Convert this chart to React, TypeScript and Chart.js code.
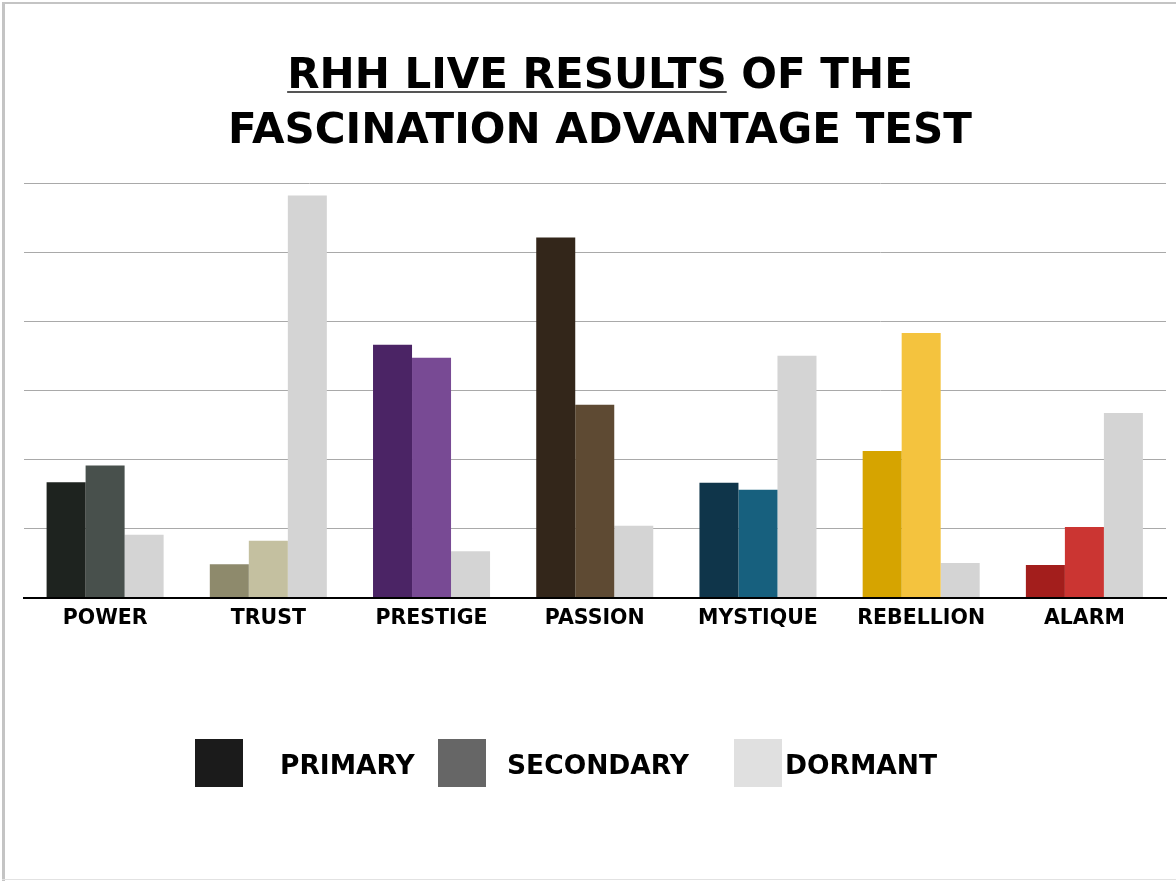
import React, { useEffect, useRef } from "react";
import { Chart, registerables } from "chart.js";

Chart.register(...registerables);

const categories = ["POWER", "TRUST", "PRESTIGE", "PASSION", "MYSTIQUE", "REBELLION", "ALARM"];
const primaryValues = [1.67, 0.48, 3.66, 5.21, 1.66, 2.12, 0.47];
const secondaryValues = [1.91, 0.82, 3.47, 2.79, 1.56, 3.83, 1.02];
const dormantValues = [0.91, 5.82, 0.67, 1.04, 3.5, 0.5, 2.67];

const primaryColors = ["#1e231f", "#8e8a6c", "#4b2465", "#33261a", "#0f354a", "#d6a400", "#a31e1c"];
const secondaryColors = ["#48504c", "#c4c0a0", "#784a94", "#5e4a33", "#17607e", "#f4c33e", "#cb3532"];
const dormantColors = ["#d4d4d4", "#d4d4d4", "#d4d4d4", "#d4d4d4", "#d4d4d4", "#d4d4d4", "#d4d4d4"];

const legendLabels = ["PRIMARY", "SECONDARY", "DORMANT"];
const legendColors = ["#1b1b1b", "#666666", "#e0e0e0"];

const FONT = "'DejaVu Sans', sans-serif";

// legend layout (pixel positions of boxes and text starts)
const legendBoxX = [195, 438, 734];
const legendTextX = [280, 507, 785];
const LEGEND_BOX_Y = 739;
const LEGEND_BOX_SIZE = 48;
const LEGEND_BASELINE = 774;

const legendPlugin = {
  id: "customLegend",
  afterDraw(chart: any) {
    const ctx = chart.ctx;
    ctx.save();
    ctx.font = `bold 26.5px ${FONT}`;
    ctx.textBaseline = "alphabetic";
    ctx.textAlign = "left";
    legendLabels.forEach((label, i) => {
      ctx.fillStyle = legendColors[i];
      ctx.fillRect(legendBoxX[i], LEGEND_BOX_Y, LEGEND_BOX_SIZE, LEGEND_BOX_SIZE);
      ctx.fillStyle = "#000000";
      ctx.fillText(label, legendTextX[i], LEGEND_BASELINE);
    });
    ctx.restore();
  },
};

export default function App() {
  const ref = useRef<HTMLCanvasElement>(null);

  useEffect(() => {
    if (!ref.current) return;
    const chart = new Chart(ref.current, {
      type: "bar",
      data: {
        labels: categories,
        datasets: [
          { label: "PRIMARY", data: primaryValues, backgroundColor: primaryColors, borderWidth: 0 },
          { label: "SECONDARY", data: secondaryValues, backgroundColor: secondaryColors, borderWidth: 0 },
          { label: "DORMANT", data: dormantValues, backgroundColor: dormantColors, borderWidth: 0 },
        ],
      },
      options: {
        animation: false,
        responsive: false,
        maintainAspectRatio: false,
        layout: { padding: { top: 183, left: 23.5, right: 10, bottom: 243.5 } },
        datasets: { bar: { categoryPercentage: 0.717, barPercentage: 1 } },
        plugins: { legend: { display: false }, tooltip: { enabled: false }, title: { display: false } },
        scales: {
          x: {
            grid: { display: false, drawTicks: false },
            border: { display: true, color: "#000000", width: 2 },
            ticks: {
              color: "#000000",
              font: { family: FONT, weight: "bold", size: 20.5 },
              padding: 9,
              maxRotation: 0,
              autoSkip: false,
            },
            afterFit(scale: any) {
              scale.height = 40;
            },
          },
          y: {
            min: 0,
            max: 6,
            ticks: { display: false, stepSize: 1 },
            grid: {
              drawTicks: false,
              lineWidth: 1,
              color: (c: any) => (c.tick && c.tick.value === 0 ? "rgba(0,0,0,0)" : "#a9a9a9"),
            },
            border: { display: false },
            afterFit(scale: any) {
              scale.width = 0;
            },
          },
        },
      },
      plugins: [legendPlugin],
    });
    return () => chart.destroy();
  }, []);

  return (
    <div style={{ position: "absolute", left: 0, top: 0, width: 1176, height: 881, background: "#ffffff", overflow: "hidden" }}>
      <div style={{ position: "absolute", left: 2, top: 2, width: 1174, height: 2, background: "#c4c4c4" }} />
      <div style={{ position: "absolute", left: 2, top: 2, width: 3, height: 879, background: "#c4c4c4" }} />
      <div style={{ position: "absolute", left: 2, top: 879, width: 1174, height: 1, background: "#e2e2e2" }} />
      <canvas ref={ref} width={1176} height={881} style={{ position: "absolute", left: 0, top: 0, width: 1176, height: 881 }} />
      <div
        style={{
          position: "absolute",
          left: 24,
          top: 46,
          width: 1152,
          textAlign: "center",
          fontFamily: FONT,
          fontWeight: "bold",
          fontSize: 42,
          lineHeight: "55px",
          color: "#000000",
          whiteSpace: "nowrap",
        }}
      >
        <div>
          <span
            style={{
              textDecorationLine: "underline",
              textDecorationColor: "#555555",
              textDecorationThickness: "2px",
              textUnderlineOffset: "3px",
            }}
          >
            RHH LIVE RESULTS
          </span>{" "}
          OF THE
        </div>
        <div>FASCINATION ADVANTAGE TEST</div>
      </div>
    </div>
  );
}
